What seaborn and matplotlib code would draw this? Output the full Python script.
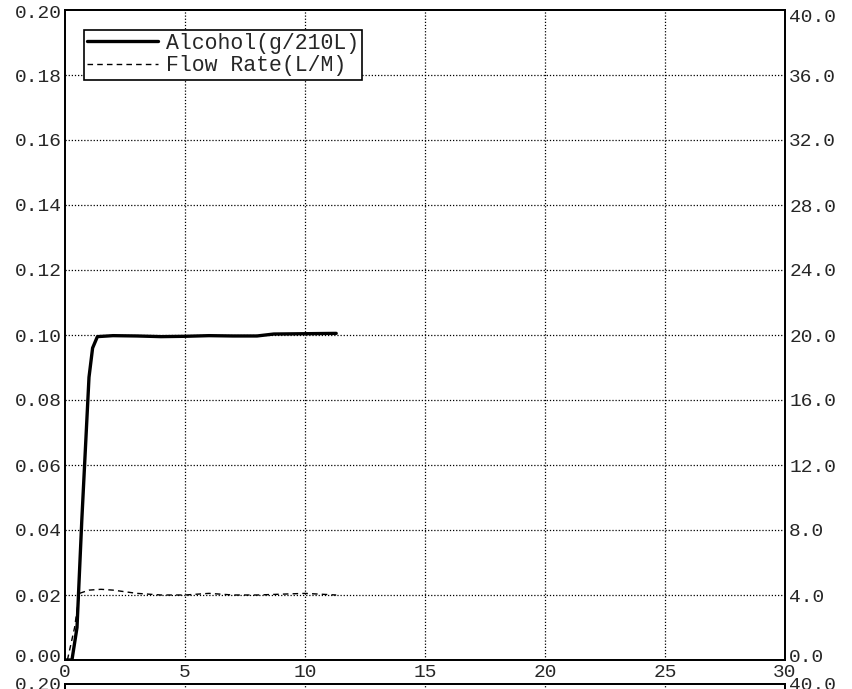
import pandas as pd
import matplotlib
matplotlib.use('Agg')
import matplotlib.pyplot as plt
import matplotlib.transforms as mtransforms
import seaborn as sns

# time axis in seconds
time_alc = [0.0, 0.29, 0.5, 0.7, 1.0, 1.15, 1.35, 2.0, 3.0, 4.0, 5.0, 6.0, 7.0, 8.0, 8.7, 10.0, 11.3]
alcohol = [0.0, 0.0, 0.010, 0.043, 0.087, 0.096, 0.0995, 0.0998, 0.0997, 0.0995, 0.0996, 0.0998, 0.0997, 0.0997, 0.1003, 0.1004, 0.1005]

time_flow = [0.1, 0.4, 0.6, 1.0, 1.5, 2.0, 2.5, 3.0, 4.0, 5.0, 6.0, 7.0, 8.0, 9.0, 10.0, 11.3]
flow = [0.0, 2.0, 4.1, 4.3, 4.35, 4.3, 4.2, 4.1, 4.0, 4.0, 4.1, 4.0, 4.0, 4.05, 4.1, 4.0]

left_ticks = [0.00, 0.02, 0.04, 0.06, 0.08, 0.10, 0.12, 0.14, 0.16, 0.18, 0.20]
right_ticks = [0.0, 4.0, 8.0, 12.0, 16.0, 20.0, 24.0, 28.0, 32.0, 36.0, 40.0]
x_ticks = [0, 5, 10, 15, 20, 25, 30]

sns.set_style('white')
plt.rcParams['font.family'] = ['Liberation Mono', 'DejaVu Sans Mono']

df_alc = pd.DataFrame({'t': time_alc, 'v': alcohol})
df_flow = pd.DataFrame({'t': time_flow, 'v': flow})

fig = plt.figure(figsize=(8.52, 6.89), dpi=100)
ax = fig.add_axes([65 / 852, 1 - 660 / 689, 720 / 852, 650 / 689])
ax2 = ax.twinx()

grid_style = dict(color='black', linestyle=(0, (1, 1.5)), linewidth=0.9)
for xv in x_ticks[1:-1]:
    ax.axvline(xv, **grid_style, zorder=0)
for yv in left_ticks[1:-1]:
    ax.axhline(yv, **grid_style, zorder=0)

sns.lineplot(data=df_alc, x='t', y='v', ax=ax, color='black', linewidth=2.4,
             label='Alcohol(g/210L)', legend=False)
sns.lineplot(data=df_flow, x='t', y='v', ax=ax2, color='black', linewidth=1.0,
             linestyle=(0, (4, 3)), label='Flow Rate(L/M)', legend=False)

ax.set_xlim(0, 30)
ax.set_ylim(0, 0.20)
ax2.set_ylim(0, 40)
ax.set_xticks(x_ticks)
ax.set_yticks(left_ticks)
ax.set_yticklabels(['%.2f' % v for v in left_ticks])
ax2.set_yticks(right_ticks)
ax2.set_yticklabels(['%.1f' % v for v in right_ticks])
ax.set_xlabel('')
ax.set_ylabel('')
ax2.set_ylabel('')

ax.tick_params(axis='y', length=0, pad=2, labelsize=14)
ax.tick_params(axis='x', length=0, pad=3, labelsize=14)
ax2.tick_params(axis='y', length=0, pad=3, labelsize=14)
for a in (ax, ax2):
    for s in a.spines.values():
        s.set_color('black')
        s.set_linewidth(1.3)

# end labels pulled inward a little, like the original print
def nudge(label, dy_px):
    label.set_transform(label.get_transform() +
                        mtransforms.ScaledTranslation(0, dy_px / 100, fig.dpi_scale_trans))

lbl_left = ax.get_yticklabels()
lbl_right = ax2.get_yticklabels()
nudge(lbl_left[0], 4)
nudge(lbl_left[-1], -2)
nudge(lbl_right[0], 5)
nudge(lbl_right[-1], -6)

h1, l1 = ax.get_legend_handles_labels()
h2, l2 = ax2.get_legend_handles_labels()
leg = ax.legend(h1 + h2, l1 + l2, loc='upper left', bbox_to_anchor=(0.026, 0.97),
                fontsize=15.5, frameon=True, fancybox=False, framealpha=1,
                edgecolor='black', handlelength=3.3, handletextpad=0.35,
                borderpad=0.15, labelspacing=0.08, borderaxespad=0)
leg.get_frame().set_linewidth(1.2)
leg.set_zorder(5)

# top edge of the next panel, cut off by the page
ax_next = fig.add_axes([65 / 852, 1 - 684 / 689 - 0.3, 720 / 852, 0.3])
ax_next.set_xlim(0, 30)
ax_next.set_ylim(0, 0.20)
ax_next.set_xticks([])
ax_next.set_yticks([0.20])
ax_next.set_yticklabels(['0.20'])
ax_next.tick_params(axis='y', length=0, pad=2, labelsize=14)
ax_next2 = ax_next.twinx()
ax_next2.set_ylim(0, 40)
ax_next2.set_yticks([40])
ax_next2.set_yticklabels(['40.0'])
ax_next2.tick_params(axis='y', length=0, pad=3, labelsize=14)
for xv in x_ticks[1:-1]:
    ax_next.axvline(xv, **grid_style)
for a in (ax_next, ax_next2):
    for s in a.spines.values():
        s.set_color('black')
        s.set_linewidth(1.3)

fig.savefig('out.png', dpi=100)
